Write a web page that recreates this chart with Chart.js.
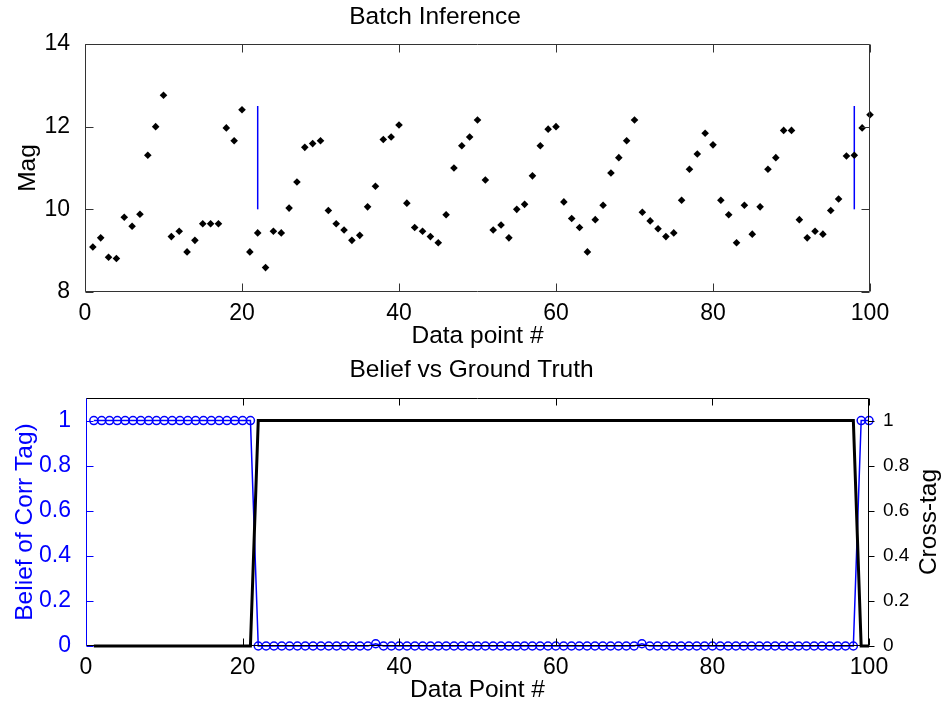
<!DOCTYPE html>
<html>
<head>
<meta charset="utf-8">
<script src="https://cdn.jsdelivr.net/npm/chart.js@4.4.1/dist/chart.umd.min.js"></script>
<style>
  body { margin: 0; background: #fff; }
  canvas { position: absolute; left: 0; }
  #topChart { top: 0; }
  #bottomChart { top: 354px; }
</style>
</head>
<body>
<canvas id="topChart" width="943" height="354"></canvas>
<canvas id="bottomChart" width="943" height="354"></canvas>
<script>
// data point numbers 1..100
const pointNum = Array.from({ length: 100 }, (_, i) => i + 1);

// magnitude
const mag = [
  9.09, 9.31, 8.84, 8.81, 9.81, 9.59, 9.88, 11.31, 12.0, 12.76,
  9.34, 9.47, 8.97, 9.25, 9.65, 9.65, 9.65, 11.97, 11.66, 12.41,
  8.97, 9.43, 8.59, 9.47, 9.43, 10.03, 10.66, 11.50, 11.59, 11.66,
  9.97, 9.65, 9.50, 9.25, 9.37, 10.06, 10.56, 11.69, 11.75, 12.04,
  10.15, 9.56, 9.47, 9.34, 9.19, 9.87, 11.0, 11.54, 11.75, 12.16,
  10.71, 9.50, 9.62, 9.31, 10.0, 10.12, 10.81, 11.54, 11.94, 12.0,
  10.18, 9.78, 9.56, 8.97, 9.75, 10.10, 10.88, 11.25, 11.66, 12.16,
  9.93, 9.72, 9.53, 9.34, 9.43, 10.22, 10.97, 11.34, 11.84, 11.56,
  10.22, 9.87, 9.19, 10.10, 9.40, 10.06, 10.97, 11.25, 11.91, 11.91,
  9.75, 9.31, 9.47, 9.40, 9.97, 10.25, 11.29, 11.31, 11.97, 12.29
];

// blue change markers on the upper panel
const changeAt = [22, 98];
const changeLow = 10;
const changeHigh = 12.5;

// belief of corr tag (left axis)
const belief = [
  1, 1, 1, 1, 1, 1, 1, 1, 1, 1,
  1, 1, 1, 1, 1, 1, 1, 1, 1, 1,
  1, 0, 0, 0, 0, 0, 0, 0, 0, 0,
  0, 0, 0, 0, 0, 0, 0.01, 0, 0, 0,
  0, 0, 0, 0, 0, 0, 0, 0, 0, 0,
  0, 0, 0, 0, 0, 0, 0, 0, 0, 0,
  0, 0, 0, 0, 0, 0, 0, 0, 0, 0,
  0.01, 0, 0, 0, 0, 0, 0, 0, 0, 0,
  0, 0, 0, 0, 0, 0, 0, 0, 0, 0,
  0, 0, 0, 0, 0, 0, 0, 0, 1, 1
];

// ground truth cross-tag (right axis)
const crossTag = [
  0, 0, 0, 0, 0, 0, 0, 0, 0, 0,
  0, 0, 0, 0, 0, 0, 0, 0, 0, 0,
  0, 1, 1, 1, 1, 1, 1, 1, 1, 1,
  1, 1, 1, 1, 1, 1, 1, 1, 1, 1,
  1, 1, 1, 1, 1, 1, 1, 1, 1, 1,
  1, 1, 1, 1, 1, 1, 1, 1, 1, 1,
  1, 1, 1, 1, 1, 1, 1, 1, 1, 1,
  1, 1, 1, 1, 1, 1, 1, 1, 1, 1,
  1, 1, 1, 1, 1, 1, 1, 1, 1, 1,
  1, 1, 1, 1, 1, 1, 1, 1, 0, 0
];

Chart.defaults.font.family = "'Liberation Sans', Arial, sans-serif";
Chart.defaults.font.size = 23;
Chart.defaults.color = '#000';

const BLUE = '#0000ff';
const LBL = 24.5;  // titles / axis labels
const fmt = v => String(+v.toFixed(2));

// matlab style box with inward ticks
const boxPlugin = {
  id: 'mbox',
  afterDatasetsDraw(chart, args, o) {
    const { ctx, chartArea: a, scales } = chart;
    const L = Math.round(a.left) + 0.5, R = Math.round(a.right) - 0.5;
    const T = Math.round(a.top) + 0.5, B = Math.round(a.bottom) - 0.5;
    const len = o.len || 8;
    ctx.save();
    ctx.lineWidth = 1;
    // top + bottom
    ctx.strokeStyle = o.color;
    ctx.beginPath();
    ctx.moveTo(L, T); ctx.lineTo(R, T);
    ctx.moveTo(L, B); ctx.lineTo(R, B);
    scales.x.ticks.forEach(t => {
      const px = Math.round(scales.x.getPixelForValue(t.value)) + 0.5;
      ctx.moveTo(px, T); ctx.lineTo(px, T + len);
      ctx.moveTo(px, B); ctx.lineTo(px, B - len);
    });
    ctx.stroke();
    // left
    ctx.strokeStyle = o.leftColor || o.color;
    ctx.beginPath();
    ctx.moveTo(L, T); ctx.lineTo(L, B);
    scales.y.ticks.forEach(t => {
      const py = Math.round(scales.y.getPixelForValue(t.value)) + 0.5;
      ctx.moveTo(L, py); ctx.lineTo(L + len, py);
      if (!o.twin) { ctx.moveTo(R, py); ctx.lineTo(R - len, py); }
    });
    ctx.stroke();
    // right
    ctx.strokeStyle = o.color;
    ctx.beginPath();
    ctx.moveTo(R, T); ctx.lineTo(R, B);
    if (o.twin) {
      scales.y2.ticks.forEach(t => {
        const py = Math.round(scales.y2.getPixelForValue(t.value)) + 0.5;
        ctx.moveTo(R, py); ctx.lineTo(R + 6, py);
      });
    }
    ctx.stroke();
    if (o.rightTitle) {
      ctx.fillStyle = '#000';
      ctx.font = LBL + "px 'Liberation Sans', Arial, sans-serif";
      ctx.textAlign = 'center';
      ctx.textBaseline = 'middle';
      ctx.translate(929, (a.top + a.bottom) / 2);
      ctx.rotate(-Math.PI / 2);
      ctx.fillText(o.rightTitle, 0, 0);
    }
    ctx.restore();
  }
};

new Chart(document.getElementById('topChart'), {
  type: 'scatter',
  data: {
    datasets: [
      {
        data: pointNum.map((x, i) => ({ x: x, y: mag[i] })),
        pointStyle: 'rectRot',
        pointRadius: 3.8,
        backgroundColor: '#000',
        borderColor: '#000',
        borderWidth: 0,
        clip: false
      },
      ...changeAt.map(cx => ({
        data: [{ x: cx, y: changeLow }, { x: cx, y: changeHigh }],
        showLine: true,
        borderColor: BLUE,
        borderWidth: 1.5,
        pointRadius: 0
      }))
    ]
  },
  options: {
    responsive: false,
    animation: false,
    layout: { padding: { left: 0, right: 73, top: 0, bottom: 0 } },
    plugins: {
      legend: { display: false },
      tooltip: { enabled: false },
      title: {
        display: true,
        text: 'Batch Inference',
        font: { size: LBL, weight: 'normal' },
        color: '#000',
        padding: { top: 2.3, bottom: 12.3 }
      },
      mbox: { color: '#333', len: 8 }
    },
    scales: {
      x: {
        type: 'linear',
        min: 0,
        max: 100,
        ticks: { stepSize: 20, padding: 0, maxRotation: 0 },
        grid: { display: false },
        border: { display: false },
        title: { display: true, text: 'Data point #', font: { size: LBL }, padding: { top: 0, bottom: 3 } },
        afterFit: s => { s.height = 62; }
      },
      y: {
        min: 8,
        max: 14,
        ticks: { stepSize: 2, padding: 7 },
        grid: { display: false },
        border: { display: false },
        title: { display: true, text: 'Mag', font: { size: LBL }, padding: { top: 13.3, bottom: 0 } },
        afterFit: s => { s.width = 85; }
      }
    }
  },
  plugins: [boxPlugin]
});

new Chart(document.getElementById('bottomChart'), {
  type: 'line',
  data: {
    datasets: [
      {
        label: 'Cross-tag',
        data: pointNum.map((x, i) => ({ x: x, y: crossTag[i] })),
        yAxisID: 'y2',
        borderColor: '#000',
        borderWidth: 3,
        pointRadius: 0,
        clip: false,
        order: 0
      },
      {
        label: 'Belief',
        data: pointNum.map((x, i) => ({ x: x, y: belief[i] })),
        yAxisID: 'y',
        borderColor: BLUE,
        borderWidth: 1.5,
        pointStyle: 'circle',
        pointRadius: 4,
        pointBorderWidth: 1.5,
        pointBorderColor: BLUE,
        pointBackgroundColor: 'rgba(0,0,0,0)',
        clip: false,
        order: 1
      }
    ]
  },
  options: {
    responsive: false,
    animation: false,
    layout: { padding: 0 },
    plugins: {
      legend: { display: false },
      tooltip: { enabled: false },
      title: {
        display: true,
        text: 'Belief vs Ground Truth',
        font: { size: LBL, weight: 'normal' },
        color: '#000',
        padding: { top: 1.3, bottom: 13.3 }
      },
      mbox: { color: '#000', leftColor: BLUE, len: 7, twin: true, rightTitle: 'Cross-tag' }
    },
    scales: {
      x: {
        type: 'linear',
        min: 0,
        max: 100,
        ticks: { stepSize: 20, padding: 0, maxRotation: 0 },
        grid: { display: false },
        border: { display: false },
        title: { display: true, text: 'Data Point #', font: { size: LBL }, padding: { top: 0, bottom: 3 } },
        afterFit: s => { s.height = 62; }
      },
      y: {
        position: 'left',
        min: 0,
        max: 1.1,
        ticks: { stepSize: 0.2, includeBounds: false, padding: 7, color: BLUE, callback: fmt },
        grid: { display: false },
        border: { display: false },
        title: { display: true, text: 'Belief of Corr Tag)', color: BLUE, font: { size: LBL }, padding: { top: 10.3, bottom: 0 } },
        afterFit: s => { s.width = 86; }
      },
      y2: {
        position: 'right',
        min: 0,
        max: 1.1,
        ticks: { stepSize: 0.2, includeBounds: false, padding: 6, color: '#000', font: { size: 19 }, callback: fmt },
        grid: { display: false },
        border: { display: false },
        afterFit: s => { s.width = 74; }
      }
    }
  },
  plugins: [boxPlugin]
});
</script>
</body>
</html>
